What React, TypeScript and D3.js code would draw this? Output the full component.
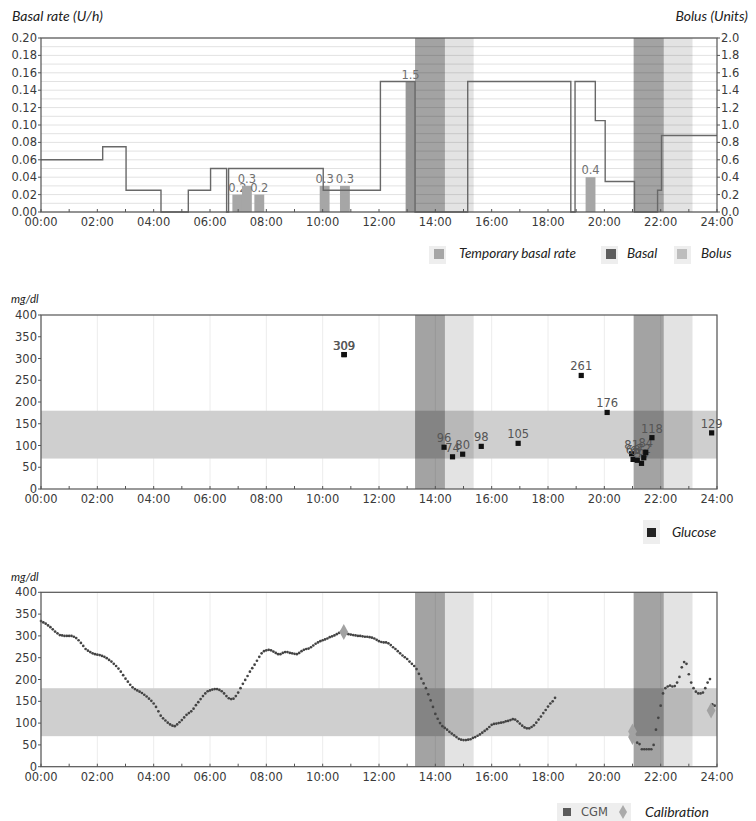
import React from 'react';
import * as d3 from 'd3';

// ---------- data ----------
const hourTicks = d3.range(0, 25, 2);
const hourMinorTicks = d3.range(0, 25, 1);

// basal rate steps: each rate holds from its start hour until the next one
const basalStartHours = [0, 2.19, 3.02, 4.26, 5.23, 6.02, 6.59, 6.66, 10.02, 12.05, 13.28, 15.15, 18.81, 18.96, 19.68, 20.03, 21.07, 21.89, 22.03, 24];
const basalRates = [0.06, 0.075, 0.025, 0, 0.025, 0.05, 0, 0.05, 0.025, 0.15, 0, 0.15, 0, 0.15, 0.105, 0.035, 0, 0.025, 0.088, 0.088];

const bolusHours = [6.97, 7.31, 7.75, 10.07, 10.79, 13.12, 19.51];
const bolusUnits = [0.2, 0.3, 0.2, 0.3, 0.3, 1.5, 0.4];

const basalRateTicks = d3.range(0, 0.2001, 0.02);
const basalGridLines = d3.range(0, 0.2001, 0.01);
const bolusTicks = d3.range(0, 2.001, 0.2);

const basalPeriods = [[13.28, 14.34], [21.04, 22.11]];
const bolusPeriods = [[14.34, 15.36], [22.11, 23.13]];

const glucoseTicks = d3.range(0, 401, 50);
const targetRange = [70, 180];

const glucoseHours = [10.75, 10.77, 14.31, 14.61, 14.97, 15.63, 16.94, 19.18, 20.1, 20.97, 21.02, 21.17, 21.32, 21.4, 21.47, 21.69, 23.81];
const glucoseValues = [309, 309, 96, 74, 80, 98, 105, 261, 176, 81, 68, 66, 59, 72, 84, 118, 129];

// CGM readings, one every 5 minutes
const cgmDayStart = 0;
const cgmDay = [
  334, 331, 328, 324, 320, 315, 310, 306, 302, 301, 300, 300,
  300, 300, 298, 295, 290, 284, 277, 270, 266, 263, 260, 258,
  257, 256, 254, 252, 249, 245, 241, 236, 231, 225, 218, 210,
  202, 195, 188, 182, 178, 175, 172, 169, 165, 161, 156, 151,
  145, 137, 127, 117, 111, 106, 101, 97, 94, 93, 97, 102,
  107, 113, 119, 123, 127, 133, 141, 148, 155, 162, 168, 173,
  175, 177, 178, 178, 176, 173, 168, 162, 157, 155, 156, 162,
  170, 180, 190, 199, 208, 218, 226, 234, 243, 252, 260, 265,
  267, 268, 267, 264, 261, 258, 258, 261, 263, 263, 261, 260,
  259, 258, 261, 265, 268, 270, 271, 274, 278, 282, 285, 288,
  290, 292, 294, 297, 299, 301, 304, 307, 310, 310, 306, 304,
  303, 302, 301, 300, 300, 299, 298, 298, 297, 296, 294, 291,
  288, 286, 285, 285, 283, 279, 274, 270, 265, 260, 255, 251,
  247, 241, 236, 231, 224, 213, 202, 191, 180, 166, 152, 137,
  121, 110, 100, 93, 89, 85, 80, 76, 72, 68, 64, 62,
  61, 61, 62, 63, 66, 68, 71, 74, 78, 82, 86, 91,
  96, 98, 99, 100, 101, 102, 104, 105, 107, 109, 108, 104,
  99, 94, 90, 88, 88, 91, 95, 101, 108, 115, 123, 130,
  138, 145, 150, 158,
];
const cgmNightStart = 21 + 2 / 12;
const cgmNight = [
  55, 52, 40, 40, 40, 40, 40, 50, 85, 112, 140, 168,
  180, 184, 186, 184, 185, 193, 206, 228, 240, 236, 212, 193,
  180, 172, 168, 168, 170, 180, 193, 201, 143, 140,
];

const calibrationHours = [10.75, 21.0, 21.0, 23.79];
const calibrationValues = [309, 81, 68, 129];

// ---------- layout ----------
const W = 756;
const H = 821;
const LEFT = 41;
const RIGHT = 717;
const x = d3.scaleLinear().domain([0, 24]).range([LEFT, RIGHT]);

const TOP1 = [38, 212];
const TOP2 = [315, 489];
const TOP3 = [592.3, 766.7];

const yBasal = d3.scaleLinear().domain([0, 0.2]).range([TOP1[1], TOP1[0]]);
const yBolus = d3.scaleLinear().domain([0, 2]).range([TOP1[1], TOP1[0]]);
const yGlu = d3.scaleLinear().domain([0, 400]).range([TOP2[1], TOP2[0]]);
const yCgm = d3.scaleLinear().domain([0, 400]).range([TOP3[1], TOP3[0]]);

const TICK_FONT = "'DejaVu Sans', sans-serif";
const TITLE_FONT = "Lato, 'Open Sans', sans-serif";
const fmtHour = (h: number) => `${String(h).padStart(2, '0')}:00`;

const DARK_BAND = 'rgba(0,0,0,0.36)';
const LIGHT_BAND = 'rgba(0,0,0,0.11)';

function Bands({ top, bottom }: { top: number; bottom: number }) {
  return (
    <g>
      {basalPeriods.map(([a, b], i) => (
        <rect key={'d' + i} x={x(a)} y={top} width={x(b) - x(a)} height={bottom - top} fill={DARK_BAND} />
      ))}
      {bolusPeriods.map(([a, b], i) => (
        <rect key={'l' + i} x={x(a)} y={top} width={x(b) - x(a)} height={bottom - top} fill={LIGHT_BAND} />
      ))}
    </g>
  );
}

function XAxis({ bottom, labelY }: { bottom: number; labelY: number }) {
  return (
    <g>
      {hourMinorTicks.map((h) => (
        <line key={h} x1={x(h)} x2={x(h)} y1={bottom} y2={bottom - 3} stroke="#555" strokeWidth={1} />
      ))}
      {hourTicks.map((h) => (
        <text key={h} x={x(h)} y={labelY} textAnchor="middle" fontFamily={TICK_FONT} fontSize={11.5} fill="#3a3a3a">
          {fmtHour(h)}
        </text>
      ))}
    </g>
  );
}

function YAxisLeft({ scale, ticks, fmt }: { scale: d3.ScaleLinear<number, number>; ticks: number[]; fmt: (v: number) => string }) {
  return (
    <g>
      {ticks.map((t) => (
        <g key={t}>
          <line x1={LEFT - 3} x2={LEFT} y1={scale(t)} y2={scale(t)} stroke="#555" />
          <text x={LEFT - 4} y={scale(t) + 4} textAnchor="end" fontFamily={TICK_FONT} fontSize={11.5} fill="#3a3a3a">
            {fmt(t)}
          </text>
        </g>
      ))}
    </g>
  );
}

function Frame({ top, bottom }: { top: number; bottom: number }) {
  return <rect x={LEFT} y={top} width={RIGHT - LEFT} height={bottom - top} fill="none" stroke="#555" strokeWidth={1.2} />;
}

function InsulinChart() {
  const [top, bottom] = TOP1;
  const basalLine = d3
    .line<number>()
    .x((_, i) => x(basalStartHours[i]))
    .y((d) => yBasal(d))
    .curve(d3.curveStepAfter)(basalRates) as string;
  const barW = x(0.35) - x(0);
  const f2 = d3.format('.2f');
  const f1 = d3.format('.1f');
  return (
    <g>
      <text x={12} y={21} fontFamily={TITLE_FONT} fontStyle="italic" fontSize={14} fill="#222">Basal rate (U/h)</text>
      <text x={748} y={21} textAnchor="end" fontFamily={TITLE_FONT} fontStyle="italic" fontSize={14} fill="#222">Bolus (Units)</text>
      <rect x={LEFT} y={top} width={RIGHT - LEFT} height={bottom - top} fill="#fff" />
      {basalGridLines.map((v) => (
        <line key={v} x1={LEFT} x2={RIGHT} y1={yBasal(v)} y2={yBasal(v)} stroke="#e2e2e2" strokeWidth={1} />
      ))}
      <Bands top={top} bottom={bottom} />
      {bolusHours.map((h, i) => (
        <g key={i}>
          <rect x={x(h) - barW / 2} y={yBolus(bolusUnits[i])} width={barW} height={bottom - yBolus(bolusUnits[i])} fill={bolusUnits[i] >= 1 ? '#979797' : '#a6a6a6'} />
          <text x={x(h)} y={yBolus(bolusUnits[i]) - 3} textAnchor="middle" fontFamily={TICK_FONT} fontSize={11.5} fill="#707070">
            {bolusUnits[i]}
          </text>
        </g>
      ))}
      <path d={basalLine} fill="none" stroke="#686868" strokeWidth={1.4} />
      <Frame top={top} bottom={bottom} />
      <YAxisLeft scale={yBasal} ticks={basalRateTicks} fmt={f2} />
      {bolusTicks.map((t) => (
        <g key={t}>
          <line x1={RIGHT} x2={RIGHT + 3} y1={yBolus(t)} y2={yBolus(t)} stroke="#555" />
          <text x={RIGHT + 4} y={yBolus(t) + 4} fontFamily={TICK_FONT} fontSize={11.5} fill="#3a3a3a">
            {f1(t)}
          </text>
        </g>
      ))}
      <XAxis bottom={bottom} labelY={226} />
      {/* legend */}
      <rect x={429} y={246} width={17} height={18} fill="#eeeeee" />
      <rect x={434} y={249} width={10} height={10} fill="#a6a6a6" />
      <text x={459} y={258} fontFamily={TITLE_FONT} fontStyle="italic" fontSize={13.5} fill="#222">Temporary basal rate</text>
      <rect x={601} y={246} width={17} height={18} fill="#eeeeee" />
      <rect x={606} y={249} width={10} height={10} fill="#5e5e5e" />
      <text x={627} y={258} fontFamily={TITLE_FONT} fontStyle="italic" fontSize={13.5} fill="#222">Basal</text>
      <rect x={674} y={246} width={17} height={18} fill="#eeeeee" />
      <rect x={677} y={249} width={10} height={10} fill="#bdbdbd" />
      <text x={701} y={258} fontFamily={TITLE_FONT} fontStyle="italic" fontSize={13.5} fill="#222">Bolus</text>
    </g>
  );
}

function GlucosePanel({ top, bottom, y }: { top: number; bottom: number; y: d3.ScaleLinear<number, number> }) {
  return (
    <g>
      <rect x={LEFT} y={top} width={RIGHT - LEFT} height={bottom - top} fill="#fff" />
      {hourTicks.map((h) => (
        <line key={h} x1={x(h)} x2={x(h)} y1={top} y2={bottom} stroke="#ececec" />
      ))}
      <rect x={LEFT} y={y(targetRange[1])} width={RIGHT - LEFT} height={y(targetRange[0]) - y(targetRange[1])} fill="#cfcfcf" />
      <Bands top={top} bottom={bottom} />
    </g>
  );
}

function GlucoseChart() {
  const [top, bottom] = TOP2;
  return (
    <g>
      <text x={11} y={303} fontFamily={TITLE_FONT} fontStyle="italic" fontSize={11.5} fill="#222">mg/dl</text>
      <GlucosePanel top={top} bottom={bottom} y={yGlu} />
      {glucoseHours.map((h, i) => (
        <g key={i}>
          <text x={x(h)} y={yGlu(glucoseValues[i]) - 5} textAnchor="middle" fontFamily={TICK_FONT} fontSize={11.5} fill="#555">
            {glucoseValues[i]}
          </text>
          <rect x={x(h) - 2.6} y={yGlu(glucoseValues[i]) - 2.6} width={5.2} height={5.2} fill="#111" />
        </g>
      ))}
      <Frame top={top} bottom={bottom} />
      <YAxisLeft scale={yGlu} ticks={glucoseTicks} fmt={(v) => String(v)} />
      <XAxis bottom={bottom} labelY={503} />
      <rect x={643} y={520} width={17} height={24} fill="#eeeeee" />
      <rect x={647} y={528} width={9} height={9} fill="#222" />
      <text x={672} y={537} fontFamily={TITLE_FONT} fontStyle="italic" fontSize={13.5} fill="#222">Glucose</text>
    </g>
  );
}

function CgmChart() {
  const [top, bottom] = TOP3;
  const dayPts = cgmDay.map((v, i) => [cgmDayStart + i / 12, v]);
  const nightPts = cgmNight.map((v, i) => [cgmNightStart + i / 12, v]);
  const diamond = d3.symbol().type(d3.symbolDiamond).size(55)() as string;
  return (
    <g>
      <text x={11} y={581} fontFamily={TITLE_FONT} fontStyle="italic" fontSize={11.5} fill="#222">mg/dl</text>
      <GlucosePanel top={top} bottom={bottom} y={yCgm} />
      {[...dayPts, ...nightPts].map(([h, v], i) => (
        <circle key={i} cx={x(h)} cy={yCgm(v)} r={1.35} fill="#444" />
      ))}
      {calibrationHours.map((h, i) => (
        <path key={i} d={diamond} transform={`translate(${x(h)},${yCgm(calibrationValues[i])}) scale(1.1,1.15)`} fill="#a2a2a2" />
      ))}
      <Frame top={top} bottom={bottom} />
      <YAxisLeft scale={yCgm} ticks={glucoseTicks} fmt={(v) => String(v)} />
      <XAxis bottom={bottom} labelY={781} />
      <rect x={557} y={803} width={74} height={18} fill="#eeeeee" />
      <rect x={563} y={808} width={8} height={8} fill="#5a5a5a" />
      <text x={581} y={816} fontFamily={TICK_FONT} fontSize={11.5} fill="#555">CGM</text>
      <path d={diamond} transform="translate(623,812) scale(1,1)" fill="#aaaaaa" />
      <text x={645} y={817} fontFamily={TITLE_FONT} fontStyle="italic" fontSize={14} fill="#222">Calibration</text>
    </g>
  );
}

export default function App() {
  return (
    <svg width={W} height={H} viewBox={`0 0 ${W} ${H}`} style={{ position: 'absolute', left: 0, top: 0, background: '#fff' }}>
      <rect x={0} y={0} width={W} height={H} fill="#fff" />
      <InsulinChart />
      <GlucoseChart />
      <CgmChart />
    </svg>
  );
}
